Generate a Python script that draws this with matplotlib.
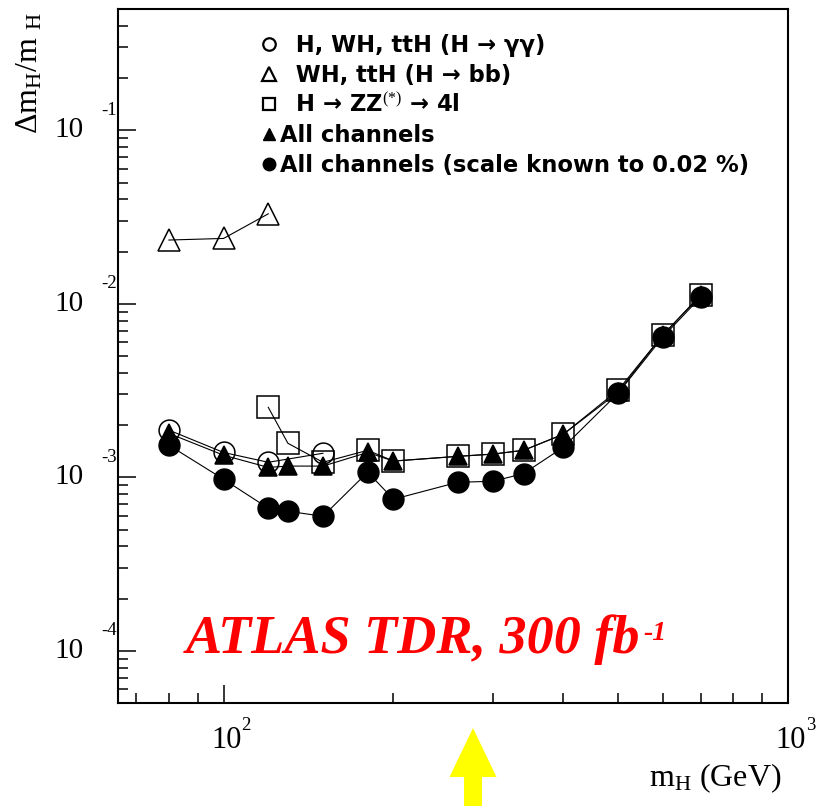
import numpy as np
import matplotlib
matplotlib.use("Agg")
import matplotlib.pyplot as plt
from matplotlib.lines import Line2D
from matplotlib.patches import FancyArrow
from matplotlib.ticker import LogLocator, NullFormatter

plt.rcParams["mathtext.fontset"] = "custom"
plt.rcParams["mathtext.rm"] = "Liberation Serif"
plt.rcParams["mathtext.it"] = "Liberation Serif:italic"
plt.rcParams["mathtext.bf"] = "Liberation Serif:bold"

# --- values (Delta m_H / m_H vs m_H) ---
mass_bb = [80, 100, 120]
res_bb = [2.33e-2, 2.38e-2, 3.3e-2]

mass_gg = [80, 100, 120, 150]
res_gg = [1.87e-3, 1.39e-3, 1.22e-3, 1.375e-3]

mass_zz = [120, 130, 150, 180, 200, 260, 300, 340, 400, 500, 600, 700]
res_zz = [2.53e-3, 1.57e-3, 1.22e-3, 1.43e-3, 1.24e-3, 1.32e-3,
          1.36e-3, 1.43e-3, 1.77e-3, 3.18e-3, 6.6e-3, 1.12e-2]

mass_all = [80, 100, 120, 130, 150, 180, 200, 260, 300, 340, 400, 500, 600, 700]
res_all = [1.79e-3, 1.34e-3, 1.14e-3, 1.16e-3, 1.16e-3, 1.39e-3, 1.24e-3,
           1.32e-3, 1.36e-3, 1.43e-3, 1.77e-3, 3.09e-3, 6.6e-3, 1.12e-2]
res_all_scale = [1.53e-3, 0.974e-3, 6.63e-4, 6.37e-4, 5.96e-4, 1.07e-3, 7.47e-4,
                 9.36e-4, 9.48e-4, 1.05e-3, 1.49e-3, 3.05e-3, 6.43e-3, 1.09e-2]

legend_labels = [
    "  H, WH, ttH (H \u2192 \u03b3\u03b3)",
    "  WH, ttH (H \u2192 bb)",
    "  H \u2192 ZZ$^{(*)}$ \u2192 4l",
    "All channels",
    "All channels (scale known to 0.02 %)",
]
y_exponents = [-1, -2, -3, -4]
x_exponents = [2, 3]

W, H = 816, 806
serif = "Liberation Serif"

fig = plt.figure(figsize=(W / 100, H / 100), dpi=100)
fig.patch.set_facecolor("white")
ax = fig.add_axes([118 / W, 1 - 703 / H, (788 - 118) / W, (703 - 9) / H])
ax.set_xscale("log")
ax.set_yscale("log")
ax.set_xlim(65, 1000)
ax.set_ylim(5e-5, 0.5)

line_kw = dict(color="black", lw=0.8, mec="black", mew=1.1)
ax.plot(mass_bb, res_bb, marker="^", ms=16, mfc="none", **line_kw)
ax.plot(mass_gg, res_gg, marker="o", ms=15, mfc="none", **line_kw)
ax.plot(mass_zz, res_zz, marker="s", ms=15.5, mfc="none", **line_kw)
ax.plot(mass_all, res_all, marker="^", ms=13, mfc="black", **line_kw)
ax.plot(mass_all, res_all_scale, marker="o", ms=15, mfc="black", **line_kw)

# axes / ticks
for sp in ax.spines.values():
    sp.set_linewidth(1.5)
ax.xaxis.set_minor_locator(LogLocator(base=10, subs=np.arange(2, 10), numticks=100))
ax.yaxis.set_minor_locator(LogLocator(base=10, subs=np.arange(2, 10), numticks=100))
ax.xaxis.set_minor_formatter(NullFormatter())
ax.yaxis.set_minor_formatter(NullFormatter())
ax.tick_params(which="both", direction="in", top=False, right=False,
               labelleft=False, labelbottom=False, width=1.1)
ax.tick_params(which="major", length=13)
ax.tick_params(which="minor", length=7)

# PAW-style tick labels
for e in y_exponents:
    ax.annotate("10", xy=(0, 10.0 ** e), xycoords=ax.get_yaxis_transform(),
                xytext=(-34, 0), textcoords="offset pixels", ha="right", va="center",
                fontsize=21, family=serif)
    ax.annotate(str(e), xy=(0, 10.0 ** e), xycoords=ax.get_yaxis_transform(),
                xytext=(-1, 20), textcoords="offset pixels", ha="right", va="center",
                fontsize=13.5, family=serif)
for e in x_exponents:
    ax.annotate("10", xy=(10.0 ** e, 0), xycoords=ax.get_xaxis_transform(),
                xytext=(3, -38), textcoords="offset pixels", ha="center", va="center",
                fontsize=22, family=serif, annotation_clip=False)
    ax.annotate(str(e), xy=(10.0 ** e, 0), xycoords=ax.get_xaxis_transform(),
                xytext=(18, -23), textcoords="offset pixels", ha="left", va="center",
                fontsize=13.5, family=serif, annotation_clip=False)

fig.text(30 / W, 1 - 12 / H, r"$\Delta$m$_{\rm H}$/m $_{\rm H}$", rotation=90,
         ha="center", va="top", fontsize=23, family=serif)
fig.text(781 / W, 1 - 786 / H, r"m$_{\rm H}$ (GeV)", ha="right", va="baseline",
         fontsize=23, family=serif)

# legend
handles = [
    Line2D([], [], ls="none", marker="o", ms=9, mfc="none", mec="black", mew=1.6),
    Line2D([], [], ls="none", marker="^", ms=9.5, mfc="none", mec="black", mew=1.6),
    Line2D([], [], ls="none", marker="s", ms=9, mfc="none", mec="black", mew=1.6),
    Line2D([], [], ls="none", marker="^", ms=9, mfc="black", mec="black"),
    Line2D([], [], ls="none", marker="o", ms=9, mfc="black", mec="black"),
]
ax.legend(handles, legend_labels, loc="upper left", bbox_to_anchor=(262 / W, 1 - 34 / H),
          bbox_transform=fig.transFigure, frameon=False, borderpad=0, borderaxespad=0,
          handlelength=0.65, handletextpad=0.15, labelspacing=0.3,
          prop=dict(family="DejaVu Sans", weight="bold", size=16.3))

# red label
t = fig.text(186 / W, 1 - 653 / H, "ATLAS TDR, 300 fb", ha="left", va="baseline",
             fontsize=39, family=serif, weight="bold", style="italic", color="red")
fig.canvas.draw()
bb = t.get_window_extent()
fig.text((bb.x1 + 3) / W, 1 - 640 / H, "-1", ha="left", va="baseline",
         fontsize=20, family=serif, weight="bold", style="italic", color="red")

# yellow arrow
fig.add_artist(FancyArrow(473 / W, 0, 0, (806 - 728) / H, width=18 / W,
                          head_width=47 / W, head_length=49 / H,
                          length_includes_head=True, transform=fig.transFigure,
                          color="#ffff00", lw=0))

fig.savefig("out.png", dpi=100)
